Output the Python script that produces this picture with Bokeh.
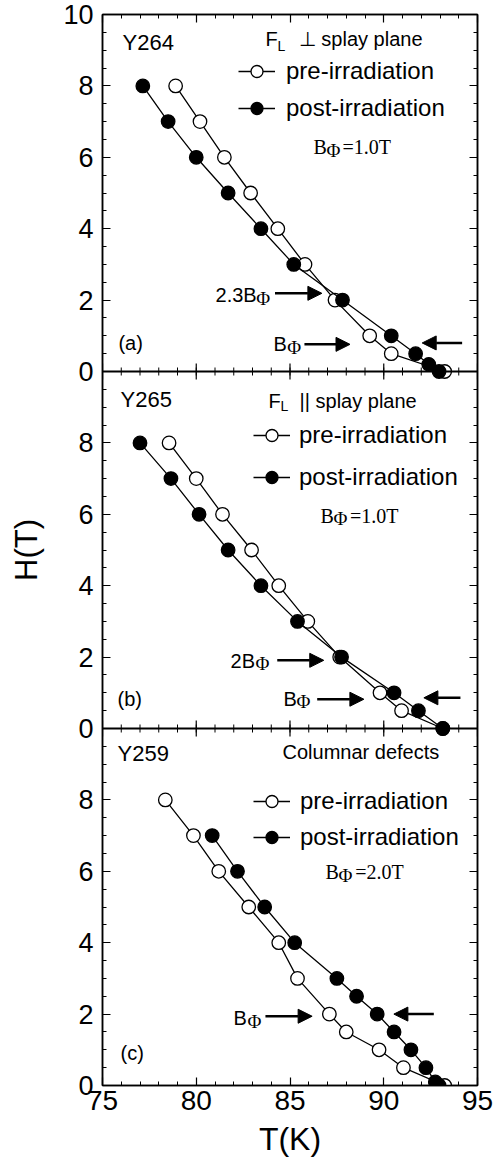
import math
from bokeh.plotting import figure
from bokeh.models import (Range1d, LinearAxis, FixedTicker, Label, Arrow, NormalHead,
                          Legend, LegendItem, Span)
from bokeh.embed import file_html
from bokeh.resources import INLINE

# ---------------- data ----------------
# panel (a) Y264, F_L perpendicular to splay plane
Ta_pre = [78.9, 80.2, 81.5, 82.9, 84.35, 85.8, 87.4, 89.25, 90.4, 93.25]
Ha_pre = [8, 7, 6, 5, 4, 3, 2, 1, 0.5, 0]
Ta_post = [77.15, 78.5, 80.0, 81.7, 83.45, 85.2, 87.8, 90.4, 91.7, 92.4, 92.95]
Ha_post = [8, 7, 6, 5, 4, 3, 2, 1, 0.5, 0.2, 0.0]
# panel (b) Y265, F_L parallel to splay plane
Tb_pre = [78.55, 80.0, 81.4, 82.95, 84.4, 85.95, 87.65, 89.8, 90.95, 93.15]
Hb_pre = [8, 7, 6, 5, 4, 3, 2, 1, 0.5, 0]
Tb_post = [77.0, 78.65, 80.15, 81.7, 83.45, 85.4, 87.75, 90.55, 91.85, 93.15]
Hb_post = [8, 7, 6, 5, 4, 3, 2, 1, 0.5, 0]
# panel (c) Y259, columnar defects
Tc_pre = [78.35, 79.85, 81.2, 82.8, 84.4, 85.4, 87.1, 88.0, 89.75, 91.05, 93.25]
Hc_pre = [8, 7, 6, 5, 4, 3, 2, 1.5, 1, 0.5, 0]
Tc_post = [80.85, 82.2, 83.65, 85.25, 87.5, 88.55, 89.65, 90.55, 91.45, 92.25, 92.75, 92.95]
Hc_post = [7, 6, 5, 4, 3, 2.5, 2, 1.5, 1, 0.5, 0.1, 0]

x_major = [75, 80, 85, 90, 95]
x_minor = list(range(75, 96))
# the three panels are stacked on one frame: (c) 0-10, (b) 10-20, (a) 20-30
y_stack_ticks = [0, 2, 4, 6, 8, 10, 12, 14, 16, 18, 20, 22, 24, 26, 28, 30]
y_tick_labels = ["0", "2", "4", "6", "8", "0", "2", "4", "6", "8", "0", "2", "4", "6", "8", "10"]
y_stack_minor = [i * 0.5 for i in range(61)]
panel_bounds = [10, 20]

SANS = "Liberation Sans"
SERIF = "Liberation Serif"

p = figure(width=494, frame_width=375, frame_height=1071,
           x_range=Range1d(75, 95), y_range=Range1d(0, 30),
           output_backend="svg", toolbar_location=None,
           min_border_left=102, min_border_right=17,
           min_border_top=14, min_border_bottom=82,
           x_axis_location=None, y_axis_location=None)
p.extra_y_ranges = {"a": Range1d(-20, 10), "b": Range1d(-10, 20), "c": Range1d(0, 30)}
p.xgrid.visible = False
p.ygrid.visible = False
p.outline_line_color = "black"
p.outline_line_width = 1.5
p.background_fill_color = "white"
p.border_fill_color = "white"


def style_axis(ax, show_labels, xaxis):
    ax.axis_line_color = "black"
    ax.axis_line_width = 1.5
    ax.major_tick_in = 8
    ax.major_tick_out = 0
    ax.minor_tick_in = 4
    ax.minor_tick_out = 0
    ax.major_tick_line_color = "black"
    ax.minor_tick_line_color = "black"
    ax.major_tick_line_width = 1.2
    ax.minor_tick_line_width = 1.0
    if show_labels:
        ax.major_label_text_font = SANS
        ax.major_label_text_font_size = "28px" if xaxis else "27px"
        ax.major_label_text_color = "black"
        ax.major_label_standoff = 5 if xaxis else 9
    else:
        ax.major_label_text_color = None
        ax.major_label_standoff = 0


xt = FixedTicker(ticks=x_major, minor_ticks=x_minor)
yt = FixedTicker(ticks=y_stack_ticks, minor_ticks=y_stack_minor)

bx = LinearAxis(ticker=xt)
style_axis(bx, True, True)
bx.axis_label = "T(K)"
bx.axis_label_text_font = SANS
bx.axis_label_text_font_size = "32px"
bx.axis_label_text_font_style = "normal"
bx.axis_label_text_color = "black"
bx.axis_label_standoff = 8
p.add_layout(bx, "below")

tx = LinearAxis(ticker=xt)
style_axis(tx, False, True)
p.add_layout(tx, "above")

ly = LinearAxis(ticker=yt)
style_axis(ly, True, False)
ly.major_label_overrides = {t: s for t, s in zip(y_stack_ticks, y_tick_labels)}
ly.axis_label = "H(T)"
ly.axis_label_text_font = SANS
ly.axis_label_text_font_size = "31px"
ly.axis_label_text_font_style = "normal"
ly.axis_label_text_color = "black"
ly.axis_label_standoff = 16
p.add_layout(ly, "left")

ry = LinearAxis(ticker=yt)
style_axis(ry, False, False)
p.add_layout(ry, "right")

# panel separators with ticks on both sides
for b in panel_bounds:
    p.add_layout(Span(location=b, dimension="width", line_color="black", line_width=2))
    p.scatter(x_minor, [b] * len(x_minor), marker="dash", angle=math.pi / 2, size=8,
              line_color="black", line_width=1.0)
    p.scatter(x_major, [b] * len(x_major), marker="dash", angle=math.pi / 2, size=16,
              line_color="black", line_width=1.2)


def series(rn, T_pre, H_pre, T_post, H_post):
    l1 = p.line(T_pre, H_pre, line_color="black", line_width=1.3, y_range_name=rn)
    s1 = p.scatter(T_pre, H_pre, size=13.5, marker="circle", fill_color="white",
                   line_color="black", line_width=1.3, y_range_name=rn)
    l2 = p.line(T_post, H_post, line_color="black", line_width=1.3, y_range_name=rn)
    s2 = p.scatter(T_post, H_post, size=13.5, marker="circle", fill_color="black",
                   line_color="black", line_width=1.3, y_range_name=rn)
    return [l1, s1], [l2, s2]


def legend(r_pre, r_post, loc, spacing, standoff):
    lg = Legend(items=[LegendItem(label="pre-irradiation", renderers=r_pre),
                       LegendItem(label="post-irradiation", renderers=r_post)],
                location=loc, padding=0, margin=0, spacing=spacing,
                glyph_width=37, glyph_height=30, label_standoff=standoff,
                label_text_font=SANS, label_text_font_size="24px",
                label_text_color="black",
                border_line_alpha=0, background_fill_alpha=0)
    p.add_layout(lg, "center")


def txt(rn, x, y, s, size, font=SANS):
    p.add_layout(Label(x=x, y=y, text=s, text_font=font, text_font_size=f"{size}px",
                       text_baseline="middle", text_align="left", text_color="black",
                       y_range_name=rn))


def arrow(rn, x0, x1, y):
    p.add_layout(Arrow(end=NormalHead(size=14, fill_color="black", line_color="black"),
                       x_start=x0, y_start=y, x_end=x1, y_end=y,
                       line_color="black", line_width=2.5, y_range_name=rn))


# ---------------- panel (a) ----------------
pre, post = series("a", Ta_pre, Ha_pre, Ta_post, Ha_post)
legend(pre, post, (136, 962), 7, 11)
txt("a", 76.07, 9.21, "Y264", 22)
txt("a", 83.69, 9.30, "F", 20)
txt("a", 84.33, 9.13, "L", 14)
txt("a", 85.47, 9.30, "\u22a5 splay plane", 20)
txt("a", 86.25, 6.29, "B", 20, SERIF)
txt("a", 86.95, 6.18, "\u03a6", 19, SERIF)
txt("a", 87.8, 6.29, "=1.0T", 20, SERIF)
txt("a", 81.03, 2.13, "2.3B", 20)
txt("a", 83.2, 2.05, "\u03a6", 19, SERIF)
arrow("a", 84.2, 86.7, 2.19)
txt("a", 84.12, 0.76, "B", 20)
txt("a", 84.85, 0.67, "\u03a6", 19, SERIF)
arrow("a", 85.77, 88.2, 0.76)
arrow("a", 94.18, 92.05, 0.8)
txt("a", 75.85, 0.81, "(a)", 20)

# ---------------- panel (b) ----------------
pre, post = series("b", Tb_pre, Hb_pre, Tb_post, Hb_post)
legend(pre, post, (151, 593), 12, 9)
txt("b", 75.96, 9.22, "Y265", 22)
txt("b", 83.85, 9.16, "F", 20)
txt("b", 84.49, 9.02, "L", 14)
txt("b", 85.51, 9.16, "|| splay plane", 20)
txt("b", 86.63, 5.95, "B", 20, SERIF)
txt("b", 87.32, 5.87, "\u03a6", 19, SERIF)
txt("b", 88.2, 5.95, "=1.0T", 20, SERIF)
txt("b", 81.83, 1.90, "2B", 20)
txt("b", 83.16, 1.82, "\u03a6", 19, SERIF)
arrow("b", 84.32, 86.8, 1.91)
txt("b", 75.8, 0.84, "(b)", 20)
txt("b", 84.65, 0.84, "B", 20)
txt("b", 85.35, 0.75, "\u03a6", 19, SERIF)
arrow("b", 86.45, 88.94, 0.82)
arrow("b", 94.09, 92.14, 0.86)

# ---------------- panel (c) ----------------
pre, post = series("c", Tc_pre, Hc_pre, Tc_post, Hc_post)
legend(pre, post, (151, 233), 6, 10)
txt("c", 75.8, 9.30, "Y259", 22)
txt("c", 84.6, 9.35, "Columnar defects", 20)
txt("c", 86.89, 5.97, "B", 20, SERIF)
txt("c", 87.59, 5.89, "\u03a6", 19, SERIF)
txt("c", 88.48, 5.97, "=2.0T", 20, SERIF)
txt("c", 81.99, 1.89, "B", 20)
txt("c", 82.73, 1.80, "\u03a6", 19, SERIF)
arrow("c", 83.69, 86.18, 1.94)
arrow("c", 92.67, 90.54, 2.0)
txt("c", 75.96, 0.90, "(c)", 20)

open("out.html", "w").write(file_html(p, INLINE))
